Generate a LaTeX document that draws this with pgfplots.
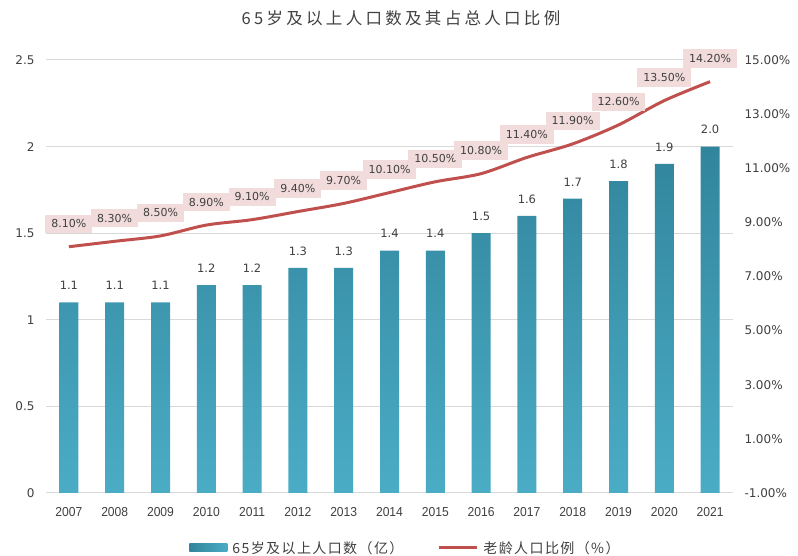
\documentclass[border=0pt]{standalone}
\usepackage{pgfplots}
\pgfplotsset{compat=1.18}
\usepackage{fontspec}
\setmainfont{DejaVu Sans}
\newfontfamily\cjktitle[LetterSpace=20]{Noto Sans CJK SC}
\newfontfamily\cjkleg[LetterSpace=10]{Noto Sans CJK SC}
\newfontfamily\yearfont[FakeStretch=0.93]{Liberation Sans}
\definecolor{barTop}{HTML}{31859C}
\definecolor{barBot}{HTML}{4BACC6}
\definecolor{lineRed}{HTML}{C0504D}
\definecolor{boxPink}{HTML}{F2DCDB}
\definecolor{txt}{HTML}{404040}
\definecolor{gridc}{HTML}{D9D9D9}
\begin{document}
\begin{tikzpicture}[x=1pt,y=1pt]
\useasboundingbox (0,0) rectangle (798,556);
\begin{axis}[
  at={(46pt,63pt)}, anchor=south west,
  scale only axis, width=687pt, height=433pt,
  clip=false,
  xmin=2006.5, xmax=2021.5, ymin=0, ymax=2.5,
  xtick={2007,2008,2009,2010,2011,2012,2013,2014,2015,2016,2017,2018,2019,2020,2021},
  xticklabels={2007,2008,2009,2010,2011,2012,2013,2014,2015,2016,2017,2018,2019,2020,2021},
  ytick={0,0.5,1,1.5,2,2.5},
  yticklabels={0,0.5,1,1.5,2,2.5},
  axis line style={draw=none},
  major tick length=0pt,
  ymajorgrids, grid style={gridc, line width=1pt},
  xticklabel style={font=\yearfont\fontsize{13}{13}\selectfont, text=txt, anchor=center, yshift=-19pt},
  yticklabel style={font=\fontsize{12}{12}\selectfont, text=txt, anchor=east, xshift=-8pt},
  title={\cjktitle\fontsize{16.5}{18}\selectfont 65岁及以上人口数及其占总人口比例},
  title style={at={(0.5167,1)}, anchor=center, yshift=36pt, text=txt},
]
\addplot[ybar, bar width=19pt, bar shift=0pt, draw=none, top color=barTop, bottom color=barBot]
 coordinates {(2007,1.1) (2008,1.1) (2009,1.1) (2010,1.2) (2011,1.2) (2012,1.3) (2013,1.3) (2014,1.4) (2015,1.4) (2016,1.5) (2017,1.6) (2018,1.7) (2019,1.8) (2020,1.9) (2021,2.0)};
\addplot[draw=none, mark=none, point meta=explicit symbolic,
  nodes near coords, nodes near coords style={anchor=south, yshift=9pt, font=\fontsize{11.5}{12}\selectfont, text=txt}]
 coordinates {(2007,1.1)[1.1] (2008,1.1)[1.1] (2009,1.1)[1.1] (2010,1.2)[1.2] (2011,1.2)[1.2] (2012,1.3)[1.3] (2013,1.3)[1.3] (2014,1.4)[1.4] (2015,1.4)[1.4] (2016,1.5)[1.5] (2017,1.6)[1.6] (2018,1.7)[1.7] (2019,1.8)[1.8] (2020,1.9)[1.9] (2021,2.0)[2.0]};
\end{axis}
\begin{axis}[
  at={(46pt,63pt)}, anchor=south west,
  scale only axis, width=687pt, height=433pt,
  clip=false,
  xmin=2006.5, xmax=2021.5, ymin=-1, ymax=15,
  xtick=\empty,
  axis y line*=right, axis x line=none,
  axis line style={draw=none},
  major tick length=0pt,
  ytick={-1,1,3,5,7,9,11,13,15},
  yticklabels={-1.00\%,1.00\%,3.00\%,5.00\%,7.00\%,9.00\%,11.00\%,13.00\%,15.00\%},
  yticklabel style={font=\fontsize{12}{12}\selectfont, text=txt, anchor=west, xshift=8pt},
  legend style={at={(0.5233,-0.127)}, anchor=center, legend columns=2, draw=none, fill=none,
    font=\cjkleg\fontsize{14}{15}\selectfont, text=txt,
    /tikz/every odd column/.append style={column sep=3pt},
    /tikz/every even column/.append style={column sep=32pt}},
  legend cell align=left,
]
\addlegendimage{legend image code/.code={\path[draw=none, left color=barTop, right color=barBot] (0pt,-4pt) rectangle (38pt,4pt);}}
\addlegendentry{65岁及以上人口数（亿）}
\addplot[lineRed, line width=3pt, smooth, mark=none, point meta=explicit symbolic,
  nodes near coords, nodes near coords style={anchor=center, yshift=23pt, fill=boxPink, inner xsep=6pt, inner ysep=5pt, font=\fontsize{11}{12}\selectfont, text=txt},
  legend image code/.code={\draw[lineRed, line width=3pt] (0pt,0pt) -- (38pt,0pt);}]
 coordinates {(2007,8.1)[8.10\%] (2008,8.3)[8.30\%] (2009,8.5)[8.50\%] (2010,8.9)[8.90\%] (2011,9.1)[9.10\%] (2012,9.4)[9.40\%] (2013,9.7)[9.70\%] (2014,10.1)[10.10\%] (2015,10.5)[10.50\%] (2016,10.8)[10.80\%] (2017,11.4)[11.40\%] (2018,11.9)[11.90\%] (2019,12.6)[12.60\%] (2020,13.5)[13.50\%] (2021,14.2)[14.20\%]};
\addlegendentry{老龄人口比例（\%）}
\end{axis}
\end{tikzpicture}
\end{document}
